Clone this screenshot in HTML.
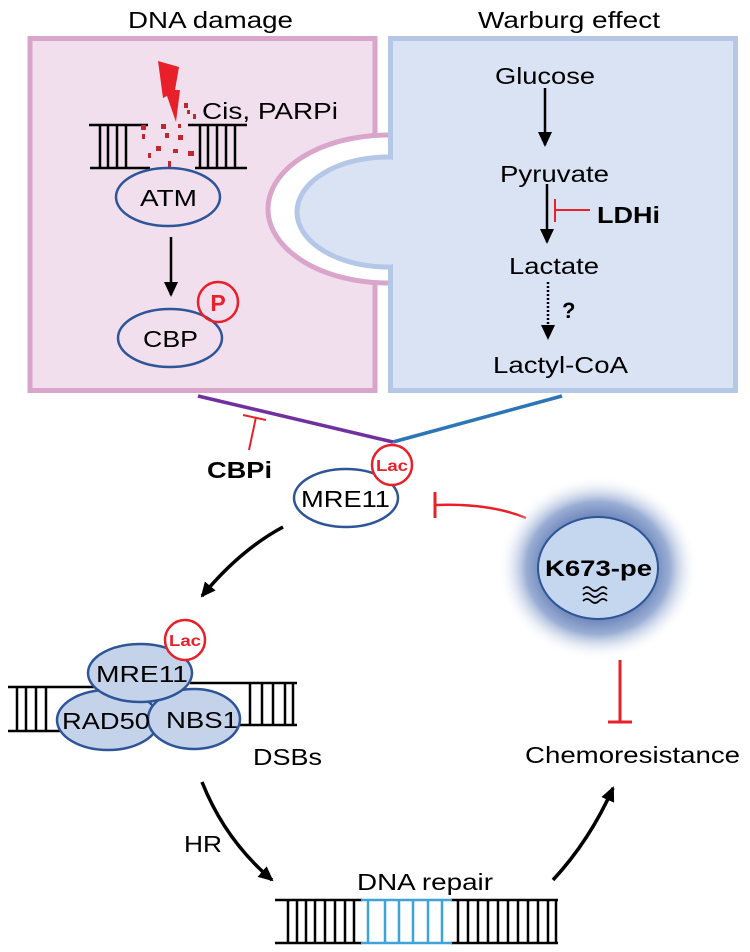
<!DOCTYPE html>
<html><head><meta charset="utf-8"><style>
html,body{margin:0;padding:0;background:#fff;}
svg{display:block;}
text{font-family:"Liberation Sans",Arial,sans-serif;}
</style></head><body>
<svg width="750" height="952" viewBox="0 0 750 952" xmlns="http://www.w3.org/2000/svg">
<defs>
<clipPath id="cl"><rect x="0" y="0" width="390" height="952"/></clipPath>
<clipPath id="cl2"><rect x="0" y="0" width="392" height="952"/></clipPath>
<radialGradient id="glow" cx="0.5" cy="0.5" r="0.5">
<stop offset="0.5" stop-color="#6079b2"/>
<stop offset="0.72" stop-color="#9aaed4"/>
<stop offset="1" stop-color="#ffffff" stop-opacity="0"/>
</radialGradient>
<marker id="ah" markerWidth="16" markerHeight="14" refX="13" refY="7" orient="auto" markerUnits="userSpaceOnUse"><path d="M0,0 L15,7 L0,14 Z" fill="#000"/></marker>
</defs>

<!-- titles -->
<text x="128" y="28" font-size="23" textLength="165" lengthAdjust="spacingAndGlyphs">DNA damage</text>
<text x="478" y="28" font-size="23" textLength="182" lengthAdjust="spacingAndGlyphs">Warburg effect</text>

<!-- pink box -->
<rect x="30" y="38.5" width="345" height="352" fill="#f1dfee" stroke="#d9a5cb" stroke-width="5"/>
<rect x="377.5" y="30" width="12" height="370" fill="#fff"/>
<g clip-path="url(#cl)">
<ellipse cx="388" cy="209" rx="120" ry="74" fill="#fff" stroke="#d9a5cb" stroke-width="5"/>
</g>
<!-- blue box -->
<rect x="390.5" y="38.5" width="345" height="352" fill="#dae3f3" stroke="#b4c7e7" stroke-width="5"/>
<g clip-path="url(#cl2)">
<ellipse cx="388" cy="212" rx="91" ry="55" fill="#dae3f3" stroke="#b4c7e7" stroke-width="5"/>
</g>
<rect x="386" y="160" width="12" height="104" fill="#dae3f3"/>

<!-- DNA top -->
<g stroke="#000" stroke-width="2.5" fill="none">
<line x1="89" y1="125" x2="148" y2="125"/><line x1="90" y1="168" x2="150" y2="168"/>
<line x1="188" y1="125" x2="247" y2="125"/><line x1="195" y1="168" x2="247" y2="168"/>
<line x1="100" y1="125" x2="100" y2="168"/><line x1="108" y1="125" x2="108" y2="168"/>
<line x1="117" y1="125" x2="117" y2="168"/><line x1="126" y1="125" x2="126" y2="168"/>
<line x1="200" y1="125" x2="200" y2="168"/><line x1="208" y1="125" x2="208" y2="168"/>
<line x1="217" y1="125" x2="217" y2="168"/><line x1="226" y1="125" x2="226" y2="168"/>
<line x1="235" y1="125" x2="235" y2="168"/>
</g>
<!-- lightning -->
<polygon points="158,61 179,67 175,90 180,90 176,122 167,96 163,98" fill="#e8202a"/>
<g fill="#c0282e">
<rect x="184" y="103" width="4" height="5"/><rect x="187" y="110" width="3" height="4"/><rect x="193" y="114" width="3" height="5"/>
<rect x="141" y="125" width="5" height="5"/><rect x="161" y="124" width="5" height="5"/><rect x="178" y="124" width="3" height="4"/>
<rect x="142" y="134" width="3" height="5"/><rect x="165" y="133" width="4" height="5"/><rect x="178" y="135" width="5" height="5"/>
<rect x="156" y="146" width="5" height="5"/><rect x="148" y="153" width="3" height="5"/><rect x="173" y="149" width="5" height="4"/>
<rect x="188" y="151" width="6" height="5"/><rect x="168" y="161" width="3" height="6"/>
</g>
<text x="202" y="119" font-size="23" textLength="136" lengthAdjust="spacingAndGlyphs">Cis, PARPi</text>

<!-- ATM -->
<ellipse cx="168" cy="197" rx="52" ry="29" fill="none" stroke="#2e5597" stroke-width="2.5"/>
<text x="140" y="206" font-size="23" textLength="57" lengthAdjust="spacingAndGlyphs">ATM</text>
<line x1="171" y1="237" x2="171" y2="295" stroke="#000" stroke-width="2.5" marker-end="url(#ah)"/>
<!-- CBP -->
<ellipse cx="170" cy="338" rx="52" ry="29" fill="none" stroke="#2e5597" stroke-width="2.5"/>
<text x="143" y="347" font-size="23" textLength="55" lengthAdjust="spacingAndGlyphs">CBP</text>
<circle cx="218" cy="302" r="20" fill="none" stroke="#e8202a" stroke-width="2.5"/>
<text x="218" y="311" font-size="23" font-weight="bold" fill="#e8202a" text-anchor="middle">P</text>

<!-- Warburg -->
<text x="495" y="84" font-size="23" textLength="100" lengthAdjust="spacingAndGlyphs">Glucose</text>
<line x1="545" y1="88" x2="545" y2="145" stroke="#000" stroke-width="2.5" marker-end="url(#ah)"/>
<text x="500" y="182" font-size="23" textLength="109" lengthAdjust="spacingAndGlyphs">Pyruvate</text>
<line x1="547" y1="184" x2="547" y2="242" stroke="#000" stroke-width="2.5" marker-end="url(#ah)"/>
<line x1="555" y1="199" x2="555" y2="222" stroke="#e8202a" stroke-width="2"/>
<line x1="555" y1="210" x2="590" y2="210" stroke="#e8202a" stroke-width="2"/>
<text x="597" y="223" font-size="23" font-weight="bold" textLength="63" lengthAdjust="spacingAndGlyphs">LDHi</text>
<text x="509" y="274" font-size="23" textLength="90" lengthAdjust="spacingAndGlyphs">Lactate</text>
<line x1="548" y1="282" x2="548" y2="338" stroke="#000" stroke-width="2.5" stroke-dasharray="2,2" marker-end="url(#ah)"/>
<text x="562" y="318" font-size="22" font-weight="bold">?</text>
<text x="493" y="373" font-size="23" textLength="135" lengthAdjust="spacingAndGlyphs">Lactyl-CoA</text>

<!-- connectors -->
<line x1="198" y1="396" x2="393" y2="442" stroke="#7030a0" stroke-width="3.5"/>
<line x1="393" y1="442" x2="562" y2="396" stroke="#2e75b6" stroke-width="3.5"/>
<line x1="249" y1="450" x2="256" y2="417" stroke="#e8202a" stroke-width="2"/>
<line x1="243" y1="415" x2="266" y2="420" stroke="#e8202a" stroke-width="2"/>
<text x="207" y="478" font-size="23" font-weight="bold" textLength="65" lengthAdjust="spacingAndGlyphs">CBPi</text>

<!-- MRE11 top -->
<ellipse cx="346" cy="498" rx="52" ry="29" fill="none" stroke="#2e5597" stroke-width="2.5"/>
<text x="301" y="507" font-size="23" textLength="89" lengthAdjust="spacingAndGlyphs">MRE11</text>
<circle cx="392" cy="465" r="20" fill="#fff" stroke="#e8202a" stroke-width="2.5"/>
<text x="376" y="471" font-size="16" font-weight="bold" fill="#e8202a" textLength="32" lengthAdjust="spacingAndGlyphs">Lac</text>

<!-- inhibit from K673 -->
<path d="M526,518 Q490,503 435,505" fill="none" stroke="#e8202a" stroke-width="2.5"/>
<line x1="435" y1="492" x2="435" y2="518" stroke="#e8202a" stroke-width="3"/>

<!-- arrow MRE11 -> complex -->
<path d="M283,527 Q240,550 202,596" fill="none" stroke="#000" stroke-width="3.5" marker-end="url(#ah)"/>

<!-- K673 -->
<ellipse cx="598" cy="568" rx="100" ry="92" fill="url(#glow)"/>
<ellipse cx="598" cy="568" rx="60" ry="51" fill="#c5d6ef" stroke="#2e5597" stroke-width="2"/>
<text x="545" y="576" font-size="22" font-weight="bold" textLength="107" lengthAdjust="spacingAndGlyphs">K673-pe</text>
<g fill="none" stroke="#000" stroke-width="1.6">
<path d="M583,589 q4,-4 8,0 t8,0 t8,0"/>
<path d="M583,595 q4,-4 8,0 t8,0 t8,0"/>
<path d="M583,601 q4,-4 8,0 t8,0 t8,0"/>
</g>

<!-- lower DNA complex -->
<g stroke="#000" stroke-width="2.5" fill="none">
<line x1="8" y1="687" x2="95" y2="687"/><line x1="8" y1="731" x2="65" y2="731"/>
<line x1="17" y1="687" x2="17" y2="731"/><line x1="26" y1="687" x2="26" y2="731"/>
<line x1="36" y1="687" x2="36" y2="731"/><line x1="46" y1="687" x2="46" y2="731"/>
<line x1="190" y1="683" x2="297" y2="683"/><line x1="235" y1="725" x2="297" y2="725"/>
<line x1="250" y1="683" x2="250" y2="725"/><line x1="262" y1="683" x2="262" y2="725"/>
<line x1="273" y1="683" x2="273" y2="725"/><line x1="285" y1="683" x2="285" y2="725"/>
<line x1="293" y1="683" x2="293" y2="725"/>
</g>
<ellipse cx="108" cy="720" rx="51" ry="30" fill="#c5d3ea" stroke="#2e5597" stroke-width="2.5"/>
<ellipse cx="194" cy="719" rx="46" ry="30" fill="#c5d3ea" stroke="#2e5597" stroke-width="2.5"/>
<ellipse cx="140" cy="673" rx="52" ry="29" fill="#c5d3ea" stroke="#2e5597" stroke-width="2.5"/>
<text x="96" y="682" font-size="23" textLength="92" lengthAdjust="spacingAndGlyphs">MRE11</text>
<text x="62" y="729" font-size="23" textLength="88" lengthAdjust="spacingAndGlyphs">RAD50</text>
<text x="166" y="728" font-size="23" textLength="72" lengthAdjust="spacingAndGlyphs">NBS1</text>
<circle cx="185" cy="640" r="20" fill="#fff" stroke="#e8202a" stroke-width="2.5"/>
<text x="169" y="646" font-size="16" font-weight="bold" fill="#e8202a" textLength="32" lengthAdjust="spacingAndGlyphs">Lac</text>
<text x="253" y="765" font-size="23" textLength="69" lengthAdjust="spacingAndGlyphs">DSBs</text>

<!-- chemoresistance -->
<line x1="620" y1="660" x2="620" y2="722" stroke="#e8202a" stroke-width="3"/>
<line x1="608" y1="722" x2="632" y2="722" stroke="#e8202a" stroke-width="3"/>
<text x="525" y="763" font-size="23" textLength="215" lengthAdjust="spacingAndGlyphs">Chemoresistance</text>

<!-- HR arrow -->
<path d="M202,782 Q225,840 272,880" fill="none" stroke="#000" stroke-width="3.5" marker-end="url(#ah)"/>
<text x="184" y="852" font-size="23" textLength="38" lengthAdjust="spacingAndGlyphs">HR</text>
<path d="M553,880 Q590,840 613,788" fill="none" stroke="#000" stroke-width="3.5" marker-end="url(#ah)"/>

<!-- DNA repair -->
<text x="357" y="890" font-size="23" textLength="136" lengthAdjust="spacingAndGlyphs">DNA repair</text>
<g stroke="#000" stroke-width="2.5">
<line x1="275" y1="900" x2="362" y2="900"/><line x1="275" y1="943" x2="362" y2="943"/>
<line x1="451" y1="900" x2="558" y2="900"/><line x1="451" y1="943" x2="558" y2="943"/>
<line x1="288" y1="900" x2="288" y2="943"/><line x1="297" y1="900" x2="297" y2="943"/>
<line x1="306" y1="900" x2="306" y2="943"/><line x1="315" y1="900" x2="315" y2="943"/>
<line x1="325" y1="900" x2="325" y2="943"/><line x1="335" y1="900" x2="335" y2="943"/>
<line x1="345" y1="900" x2="345" y2="943"/><line x1="354" y1="900" x2="354" y2="943"/>
<line x1="458" y1="900" x2="458" y2="943"/><line x1="468" y1="900" x2="468" y2="943"/>
<line x1="478" y1="900" x2="478" y2="943"/><line x1="488" y1="900" x2="488" y2="943"/>
<line x1="498" y1="900" x2="498" y2="943"/><line x1="508" y1="900" x2="508" y2="943"/>
<line x1="518" y1="900" x2="518" y2="943"/><line x1="528" y1="900" x2="528" y2="943"/>
<line x1="538" y1="900" x2="538" y2="943"/><line x1="548" y1="900" x2="548" y2="943"/>
<line x1="556" y1="900" x2="556" y2="943"/>
</g>
<g stroke="#3fa3db" stroke-width="2.5">
<line x1="361" y1="900" x2="452" y2="900"/><line x1="361" y1="943" x2="452" y2="943"/>
<line x1="368" y1="900" x2="368" y2="943"/><line x1="385" y1="900" x2="385" y2="943"/>
<line x1="399" y1="900" x2="399" y2="943"/><line x1="413" y1="900" x2="413" y2="943"/>
<line x1="428" y1="900" x2="428" y2="943"/><line x1="442" y1="900" x2="442" y2="943"/>
</g>
</svg>
</body></html>
